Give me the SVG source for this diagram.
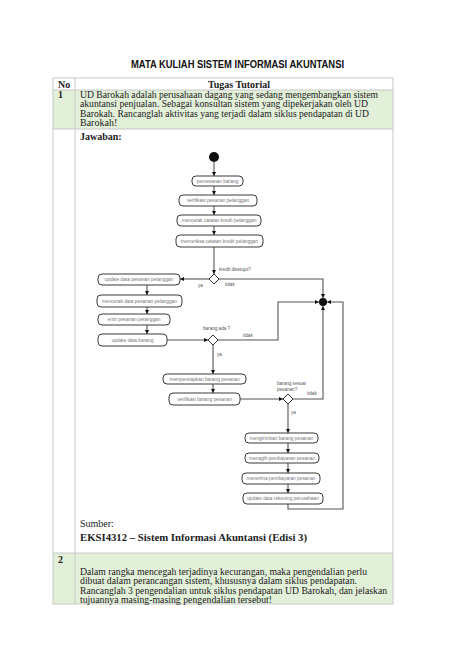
<svg xmlns="http://www.w3.org/2000/svg" width="474" height="670" viewBox="0 0 474 670">
<style>
.doc{font-family:"Liberation Serif","Times New Roman",serif;font-size:10px;fill:#222}
.b{font-weight:bold}
.title{font-family:"Liberation Sans",Arial,sans-serif;font-weight:bold;font-size:10.5px;fill:#111}
.grid{stroke:#c8c8c8;stroke-width:1;fill:none}
.act{fill:#fff;stroke:#3a3a3a;stroke-width:1}
.at{font-family:"Liberation Sans",Arial,sans-serif;font-size:4.8px;fill:#777;text-anchor:middle}
.lb{font-family:"Liberation Sans",Arial,sans-serif;font-size:4.6px;fill:#555}
.ln{stroke:#555;stroke-width:1.1;fill:none}
.dia{fill:#fff;stroke:#333;stroke-width:1}
</style>
<defs>
<marker id="ah" viewBox="0 0 6 6" refX="6" refY="3" markerWidth="4" markerHeight="4" markerUnits="userSpaceOnUse" orient="auto">
<path d="M0,0 L6,3 L0,6 z" fill="#111"/>
</marker>
</defs>
<rect width="474" height="670" fill="#fff"/>
<g id="page">
<text class="title" x="131" y="68" textLength="213" lengthAdjust="spacingAndGlyphs">MATA KULIAH SISTEM INFORMASI AKUNTANSI</text>
<rect x="53" y="90" width="340" height="39" fill="#e2efd9"/>
<rect x="53" y="553" width="340" height="51" fill="#e2efd9"/>
<rect class="grid" x="53" y="78" width="340" height="526"/>
<line class="grid" x1="75" y1="78" x2="75" y2="604"/>
<line class="grid" x1="53" y1="90" x2="393" y2="90"/>
<line class="grid" x1="53" y1="129" x2="393" y2="129"/>
<line class="grid" x1="53" y1="553" x2="393" y2="553"/>
<text class="doc b" x="58" y="88">No</text>
<text class="doc b" x="239" y="88" text-anchor="middle">Tugas Tutorial</text>
<text class="doc b" x="58" y="98">1</text>
<text class="doc" x="80" y="97.5" textLength="298" lengthAdjust="spacingAndGlyphs">UD Barokah adalah perusahaan dagang yang sedang mengembangkan sistem</text>
<text class="doc" x="80" y="107" textLength="288" lengthAdjust="spacingAndGlyphs">akuntansi penjualan. Sebagai konsultan sistem yang dipekerjakan oleh UD</text>
<text class="doc" x="80" y="116.5" textLength="289" lengthAdjust="spacingAndGlyphs">Barokah. Rancanglah aktivitas yang terjadi dalam siklus pendapatan di UD</text>
<text class="doc" x="80" y="126">Barokah!</text>
<text class="doc b" x="80" y="140">Jawaban:</text>
<text class="doc" x="80" y="527" font-size="9.5">Sumber:</text>
<text class="doc b" x="80" y="541" font-size="12" textLength="227" lengthAdjust="spacingAndGlyphs">EKSI4312 – Sistem Informasi Akuntansi (Edisi 3)</text>
<text class="doc b" x="58" y="563">2</text>
<text class="doc" x="80" y="574.5" textLength="287" lengthAdjust="spacingAndGlyphs">Dalam rangka mencegah terjadinya kecurangan, maka pengendalian perlu</text>
<text class="doc" x="80" y="584" textLength="277" lengthAdjust="spacingAndGlyphs">dibuat dalam perancangan sistem, khususnya dalam siklus pendapatan.</text>
<text class="doc" x="80" y="593.5" textLength="307" lengthAdjust="spacingAndGlyphs">Rancanglah 3 pengendalian untuk siklus pendapatan UD Barokah, dan jelaskan</text>
<text class="doc" x="80" y="603" textLength="192" lengthAdjust="spacingAndGlyphs">tujuannya masing-masing pengendalian tersebut!</text>
</g>
<g id="connectors">
<line class="ln" x1="214" y1="162" x2="214" y2="176" marker-end="url(#ah)"/>
<line class="ln" x1="214" y1="186" x2="214" y2="195" marker-end="url(#ah)"/>
<line class="ln" x1="214" y1="206" x2="214" y2="215" marker-end="url(#ah)"/>
<line class="ln" x1="214" y1="226" x2="214" y2="235" marker-end="url(#ah)"/>
<line class="ln" x1="214" y1="247" x2="214" y2="274" marker-end="url(#ah)"/>
<line class="ln" x1="209" y1="279" x2="180" y2="279" marker-end="url(#ah)"/>
<polyline class="ln" points="219,279 323,279 323,298" marker-end="url(#ah)"/>
<line class="ln" x1="147" y1="285" x2="147" y2="295" marker-end="url(#ah)"/>
<line class="ln" x1="147" y1="307" x2="147" y2="314" marker-end="url(#ah)"/>
<line class="ln" x1="147" y1="325" x2="147" y2="334" marker-end="url(#ah)"/>
<line class="ln" x1="167" y1="340" x2="208" y2="340" marker-end="url(#ah)"/>
<polyline class="ln" points="218,340 278,340 278,302 319,302" marker-end="url(#ah)"/>
<line class="ln" x1="213" y1="345" x2="213" y2="374" marker-end="url(#ah)"/>
<line class="ln" x1="213" y1="384" x2="213" y2="393" marker-end="url(#ah)"/>
<line class="ln" x1="240" y1="399" x2="283" y2="399" marker-end="url(#ah)"/>
<polyline class="ln" points="293,399 323,399 323,306" marker-end="url(#ah)"/>
<line class="ln" x1="288" y1="404" x2="288" y2="433" marker-end="url(#ah)"/>
<line class="ln" x1="288" y1="443" x2="288" y2="453" marker-end="url(#ah)"/>
<line class="ln" x1="288" y1="463" x2="288" y2="473" marker-end="url(#ah)"/>
<line class="ln" x1="288" y1="484" x2="288" y2="493" marker-end="url(#ah)"/>
<polyline class="ln" points="288,504 288,509 343,509 343,302 327,302" marker-end="url(#ah)"/>
<text class="lb" x="219" y="271">kredit disetujui?</text>
<text class="lb" x="198" y="287">ya</text>
<text class="lb" x="225" y="286">tidak</text>
<text class="lb" x="203" y="330">barang ada ?</text>
<text class="lb" x="243" y="337">tidak</text>
<text class="lb" x="217" y="356">ya</text>
<text class="lb" x="277" y="385">barang sesuai</text>
<text class="lb" x="277" y="391">pesanan?</text>
<text class="lb" x="307" y="395">tidak</text>
<text class="lb" x="291" y="414">ya</text>
</g>
<g id="start"><circle cx="214" cy="157" r="5" fill="#111"/></g>
<g id="n1"><rect class="act" x="192" y="176" width="51" height="10" rx="4"/><text class="at" x="217.5" y="182.7">pemesanan barang</text></g>
<g id="n2"><rect class="act" x="179" y="195" width="78" height="11" rx="4"/><text class="at" x="218" y="202.2">verifikasi pesanan pelanggan</text></g>
<g id="n3"><rect class="act" x="177" y="215" width="84" height="11" rx="4"/><text class="at" x="219" y="222.2">mencetak catatan kredit pelanggan</text></g>
<g id="n4"><rect class="act" x="176" y="235" width="87" height="12" rx="4"/><text class="at" x="219.5" y="242.7">memeriksa catatan kredit pelanggan</text></g>
<g id="d1"><polygon class="dia" points="214,274 219,279 214,284 209,279"/></g>
<g id="n5"><rect class="act" x="98" y="274" width="82" height="11" rx="4"/><text class="at" x="139" y="281.2">update data pesanan pelanggan</text></g>
<g id="n6"><rect class="act" x="97" y="295" width="85" height="12" rx="4"/><text class="at" x="139.5" y="302.7">mencetak data pesanan pelanggan</text></g>
<g id="n7"><rect class="act" x="98" y="314" width="72" height="11" rx="4"/><text class="at" x="134" y="321.2">entri pesanan pelanggan</text></g>
<g id="n8"><rect class="act" x="98" y="334" width="69" height="12" rx="4"/><text class="at" x="132.5" y="341.7">update data barang</text></g>
<g id="d2"><polygon class="dia" points="213,335 218,340 213,345 208,340"/></g>
<g id="n9"><rect class="act" x="163" y="374" width="83" height="10" rx="4"/><text class="at" x="204.5" y="380.7">mempersiapkan barang pesanan</text></g>
<g id="n10"><rect class="act" x="169" y="393" width="71" height="12" rx="4"/><text class="at" x="204.5" y="400.7">verifikasi barang pesanan</text></g>
<g id="d3"><polygon class="dia" points="288,394 293,399 288,404 283,399"/></g>
<g id="n11"><rect class="act" x="245" y="433" width="73" height="10" rx="4"/><text class="at" x="281.5" y="439.7">mengirimkan barang pesanan</text></g>
<g id="n12"><rect class="act" x="245" y="453" width="74" height="10" rx="4"/><text class="at" x="282" y="459.7">menagih pembayaran pesanan</text></g>
<g id="n13"><rect class="act" x="242" y="473" width="78" height="11" rx="4"/><text class="at" x="281" y="480.2">menerima pembayaran pesanan</text></g>
<g id="n14"><rect class="act" x="243" y="493" width="80" height="11" rx="4"/><text class="at" x="283" y="500.2">update data rekening perusahaan</text></g>
<g id="join"><circle cx="323" cy="302" r="4" fill="#111"/></g>
</svg>
